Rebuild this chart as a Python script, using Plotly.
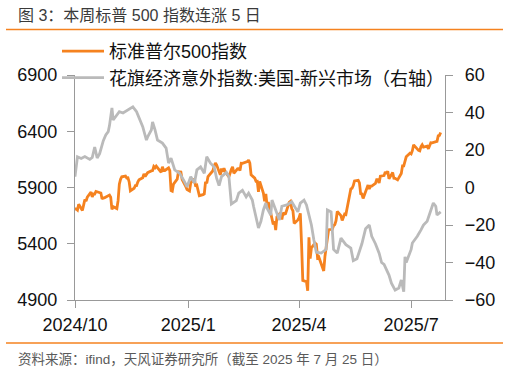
import plotly.graph_objects as go

# ---------------- data ----------------
spx_name = "标准普尔500指数"
cesi_name = "花旗经济意外指数:美国-新兴市场（右轴）"

spx_dates = [
    "2024-10-01","2024-10-02","2024-10-03","2024-10-04","2024-10-07","2024-10-08","2024-10-09","2024-10-10","2024-10-11",
    "2024-10-14","2024-10-15","2024-10-16","2024-10-17","2024-10-18","2024-10-21","2024-10-22","2024-10-23","2024-10-24",
    "2024-10-25","2024-10-28","2024-10-29","2024-10-30","2024-10-31",
    "2024-11-01","2024-11-04","2024-11-05","2024-11-06","2024-11-07","2024-11-08","2024-11-11","2024-11-12","2024-11-13",
    "2024-11-14","2024-11-15","2024-11-18","2024-11-19","2024-11-20","2024-11-21","2024-11-22","2024-11-25","2024-11-26",
    "2024-11-27","2024-11-29",
    "2024-12-02","2024-12-03","2024-12-04","2024-12-05","2024-12-06","2024-12-09","2024-12-10","2024-12-11","2024-12-12",
    "2024-12-13","2024-12-16","2024-12-17","2024-12-18","2024-12-19","2024-12-20","2024-12-23","2024-12-24","2024-12-26",
    "2024-12-27","2024-12-30","2024-12-31",
    "2025-01-02","2025-01-03","2025-01-06","2025-01-07","2025-01-08","2025-01-10","2025-01-13","2025-01-14","2025-01-15",
    "2025-01-16","2025-01-17","2025-01-21","2025-01-22","2025-01-23","2025-01-24","2025-01-27","2025-01-28","2025-01-29",
    "2025-01-30","2025-01-31",
    "2025-02-03","2025-02-04","2025-02-05","2025-02-06","2025-02-07","2025-02-10","2025-02-11","2025-02-12","2025-02-13",
    "2025-02-14","2025-02-18","2025-02-19","2025-02-20","2025-02-21","2025-02-24","2025-02-25","2025-02-26","2025-02-27",
    "2025-02-28",
    "2025-03-03","2025-03-04","2025-03-05","2025-03-06","2025-03-07","2025-03-10","2025-03-11","2025-03-12","2025-03-13",
    "2025-03-14","2025-03-17","2025-03-18","2025-03-19","2025-03-20","2025-03-21","2025-03-24","2025-03-25","2025-03-26",
    "2025-03-27","2025-03-28","2025-03-31",
    "2025-04-01","2025-04-02","2025-04-03","2025-04-04","2025-04-07","2025-04-08","2025-04-09","2025-04-10","2025-04-11",
    "2025-04-14","2025-04-15","2025-04-16","2025-04-17","2025-04-21","2025-04-22","2025-04-23","2025-04-24","2025-04-25",
    "2025-04-28","2025-04-29","2025-04-30",
    "2025-05-01","2025-05-02","2025-05-05","2025-05-06","2025-05-07","2025-05-08","2025-05-09","2025-05-12","2025-05-13",
    "2025-05-14","2025-05-15","2025-05-16","2025-05-19","2025-05-20","2025-05-21","2025-05-22","2025-05-23","2025-05-27",
    "2025-05-28","2025-05-29","2025-05-30",
    "2025-06-02","2025-06-03","2025-06-04","2025-06-05","2025-06-06","2025-06-09","2025-06-10","2025-06-11","2025-06-12",
    "2025-06-13","2025-06-16","2025-06-17","2025-06-18","2025-06-20","2025-06-23","2025-06-24","2025-06-25","2025-06-26",
    "2025-06-27","2025-06-30",
    "2025-07-01","2025-07-02","2025-07-03","2025-07-07","2025-07-08","2025-07-09","2025-07-10","2025-07-11","2025-07-14",
    "2025-07-15","2025-07-16","2025-07-17","2025-07-18","2025-07-21","2025-07-22","2025-07-23","2025-07-24","2025-07-25",
]
spx_close = [
    5708.75,5709.54,5699.94,5751.07,5695.94,5751.13,5792.04,5780.05,5815.03,
    5859.85,5815.26,5842.47,5841.47,5864.67,5853.98,5851.20,5797.42,5809.86,
    5808.12,5823.52,5832.92,5813.67,5705.45,
    5728.80,5712.69,5782.76,5929.04,5973.10,5995.54,6001.35,5983.99,5985.38,
    5949.17,5870.62,5893.62,5916.98,5917.11,5948.71,5969.34,5987.37,6021.63,
    5998.74,6032.38,
    6047.15,6049.88,6086.49,6075.11,6090.27,6052.85,6034.91,6084.19,6051.25,
    6051.09,6074.08,6050.61,5872.16,5867.08,5930.85,5974.07,6040.04,6037.59,
    5970.84,5906.94,5881.63,
    5868.55,5942.47,5975.38,5909.03,5918.25,5827.04,5836.22,5842.91,5949.91,
    5937.34,5996.66,6049.24,6086.37,6118.71,6101.24,6012.28,6067.70,6039.31,
    6071.17,6040.53,
    5994.57,6037.88,6061.48,6083.57,6025.99,6066.44,6068.50,6051.97,6115.07,
    6114.63,6129.58,6144.15,6117.52,6013.13,5983.25,5955.25,5956.06,5861.57,
    5954.50,
    5849.72,5778.15,5842.63,5738.52,5770.20,5614.56,5572.07,5599.30,5521.52,
    5638.94,5675.12,5614.66,5675.29,5662.89,5667.56,5767.57,5776.65,5712.20,
    5693.31,5580.94,5611.85,
    5633.07,5670.97,5396.52,5074.08,5062.25,4982.77,5456.90,5268.05,5363.36,
    5405.97,5396.63,5275.70,5282.70,5158.20,5287.76,5375.86,5484.77,5525.21,
    5528.75,5560.83,5569.06,
    5604.14,5686.67,5650.38,5606.91,5631.28,5663.94,5659.91,5844.19,5886.55,
    5892.58,5916.93,5958.38,5963.60,5940.46,5844.61,5842.01,5802.82,5921.54,
    5888.55,5912.17,5911.69,
    5935.94,5970.37,5970.81,5939.30,6000.36,6005.88,6038.81,6022.24,6045.26,
    5976.97,6033.11,5982.72,5980.87,5967.84,6025.17,6092.18,6092.16,6141.02,
    6173.07,6204.95,
    6198.01,6227.42,6279.35,6229.98,6225.52,6263.26,6280.46,6259.75,6268.56,
    6243.76,6263.70,6297.36,6296.79,6305.60,6309.62,6358.91,6363.35,6388.64,
]

cesi_dates = [
    "2024-10-01","2024-10-03","2024-10-06","2024-10-09","2024-10-13","2024-10-15","2024-10-17","2024-10-19","2024-10-21",
    "2024-10-24","2024-10-26","2024-10-28","2024-10-29","2024-10-31","2024-11-01","2024-11-04","2024-11-06","2024-11-09",
    "2024-11-13","2024-11-17","2024-11-20","2024-11-23","2024-11-25","2024-11-28","2024-11-29","2024-12-02","2024-12-03",
    "2024-12-05","2024-12-07","2024-12-11","2024-12-14","2024-12-16","2024-12-18","2024-12-21","2024-12-25","2024-12-29",
    "2024-12-31","2025-01-03","2025-01-06","2025-01-08","2025-01-11","2025-01-14","2025-01-16","2025-01-19","2025-01-22",
    "2025-01-24","2025-01-26","2025-01-28","2025-02-01","2025-02-03","2025-02-05","2025-02-09","2025-02-11","2025-02-14",
    "2025-02-17","2025-02-19","2025-02-22","2025-02-23","2025-02-26","2025-02-27","2025-03-01","2025-03-03","2025-03-05",
    "2025-03-06","2025-03-09","2025-03-10","2025-03-13","2025-03-16","2025-03-18","2025-03-22","2025-03-26","2025-03-28",
    "2025-03-31","2025-04-02","2025-04-05","2025-04-07","2025-04-11","2025-04-13","2025-04-15","2025-04-19","2025-04-23",
    "2025-04-24","2025-04-27","2025-04-29","2025-05-02","2025-05-05","2025-05-09","2025-05-13","2025-05-15","2025-05-18",
    "2025-05-22","2025-05-25","2025-05-28","2025-05-30","2025-06-02","2025-06-05","2025-06-07","2025-06-09","2025-06-11",
    "2025-06-13","2025-06-15","2025-06-18","2025-06-21","2025-06-23","2025-06-25","2025-06-26","2025-06-27","2025-07-01",
    "2025-07-02","2025-07-06","2025-07-09","2025-07-11","2025-07-14","2025-07-17","2025-07-19","2025-07-21","2025-07-22",
    "2025-07-25",
]
cesi_values = [
    5.8, 16.4, 15.5, 16.5, 15.0, 16.0, 21.6, 15.7, 18.0,
    25.0, 28.0, 29.8, 33.0, 42.4, 36.0, 38.7, 40.4, 39.7,
    41.3, 43.0, 40.4, 36.0, 32.4, 25.3, 27.0, 30.7, 35.0,
    30.7, 25.3, 23.7, 21.0, 13.0, 15.7, 9.4, 7.6, 3.0,
    0.4, 5.8, 2.4, 9.4, 11.0, 7.6, 16.4, 13.0, 11.0,
    5.0, 1.0, 5.8, 8.0, 5.8, -8.8, -7.0, -3.0, -1.5,
    -5.0, -3.0, -6.7, -10.0, -19.0, -21.6, -18.0, -12.0, -8.3,
    -11.0, -14.7, -6.7, -12.0, -17.3, -10.0, -9.3, -7.6, -10.0,
    -13.0, -8.3, -6.7, -9.3, -20.0, -28.0, -34.5, -35.0, -33.0,
    -12.0, -13.0, -33.0, -35.0, -27.0, -30.5, -32.3, -39.0, -38.0,
    -30.0, -22.0, -20.0, -26.0, -30.0, -35.0, -40.0, -41.0, -44.0,
    -46.7, -51.0, -54.7, -53.6, -49.3, -55.6, -37.0, -40.0, -33.0,
    -29.6, -26.0, -22.6, -20.0, -18.0, -12.0, -8.3, -10.0, -14.7,
    -13.0,
]
assert len(spx_dates) == len(spx_close)
assert len(cesi_dates) == len(cesi_values)

left_ticks = [4900, 5400, 5900, 6400, 6900]
right_ticks = [-60, -40, -20, 0, 20, 40, 60]
x_tick_dates = ["2024-10-01", "2025-01-01", "2025-04-01", "2025-07-01"]
x_tick_labels = ["2024/10", "2025/1", "2025/4", "2025/7"]

title_text = "图 3：本周标普 500 指数连涨 5 日"
source_text = "资料来源：ifind，天风证券研究所（截至 2025 年 7 月 25 日）"

# ---------------- style / layout ----------------
W, H = 508, 372
L, R, T, B = 75, 63, 75, 72
pw, ph = W - L - R, H - T - B
def fx(px): return (px - L) / pw
def fy(py): return (H - B - py) / ph

ORANGE = "#F5821F"
GRAY = "#BABABA"
AX = "#999999"
FONT = "Liberation Sans, Noto Sans CJK SC, sans-serif"

fig = go.Figure()
fig.add_trace(go.Scatter(x=spx_dates, y=spx_close, name=spx_name, mode="lines",
                         line=dict(color=ORANGE, width=2.8), yaxis="y"))
fig.add_trace(go.Scatter(x=cesi_dates, y=cesi_values, name=cesi_name, mode="lines",
                         line=dict(color=GRAY, width=2.8), yaxis="y2"))

axis_common = dict(showline=True, linecolor=AX, linewidth=1.2, ticks="outside", ticklen=7,
                   tickcolor=AX, tickwidth=1.2, showgrid=False, zeroline=False,
                   tickfont=dict(family=FONT, size=18, color="#111111"))

fig.update_layout(
    width=W, height=H,
    margin=dict(l=L, r=R, t=T, b=B, pad=0),
    paper_bgcolor="white", plot_bgcolor="white",
    font=dict(family=FONT),
    showlegend=True,
    legend=dict(x=fx(57), y=fy(33), xanchor="left", yanchor="top",
                bgcolor="rgba(0,0,0,0)", font=dict(family=FONT, size=18, color="#111111"),
                tracegroupgap=0, itemwidth=42),
    xaxis=dict(type="date", range=["2024-10-01", "2025-07-28 12:00"],
               tickvals=x_tick_dates, ticktext=x_tick_labels, ticklabelstandoff=1, **axis_common),
    yaxis=dict(range=[left_ticks[0], left_ticks[-1]], tickvals=left_ticks, ticklabelstandoff=6,
               **axis_common),
    yaxis2=dict(range=[right_ticks[0], right_ticks[-1]], tickvals=right_ticks, overlaying="y",
                side="right", ticklabelstandoff=8, **axis_common),
    shapes=[
        dict(type="line", xref="paper", yref="paper", x0=fx(6), x1=fx(503), y0=fy(29.5), y1=fy(29.5),
             line=dict(color=ORANGE, width=1.6)),
        dict(type="line", xref="paper", yref="paper", x0=fx(6), x1=fx(503), y0=fy(343), y1=fy(343),
             line=dict(color=ORANGE, width=1.6)),
    ],
    annotations=[
        dict(text=title_text, xref="paper", yref="paper", x=fx(16), y=fy(15), xanchor="left",
             yanchor="middle", align="left", showarrow=False,
             font=dict(family=FONT, size=16, color="#3a3a3a")),
        dict(text=source_text, xref="paper", yref="paper", x=fx(16), y=fy(359), xanchor="left",
             yanchor="middle", align="left", showarrow=False,
             font=dict(family=FONT, size=13.5, color="#5a5a5a")),
    ],
)

fig.write_html("out.html")
